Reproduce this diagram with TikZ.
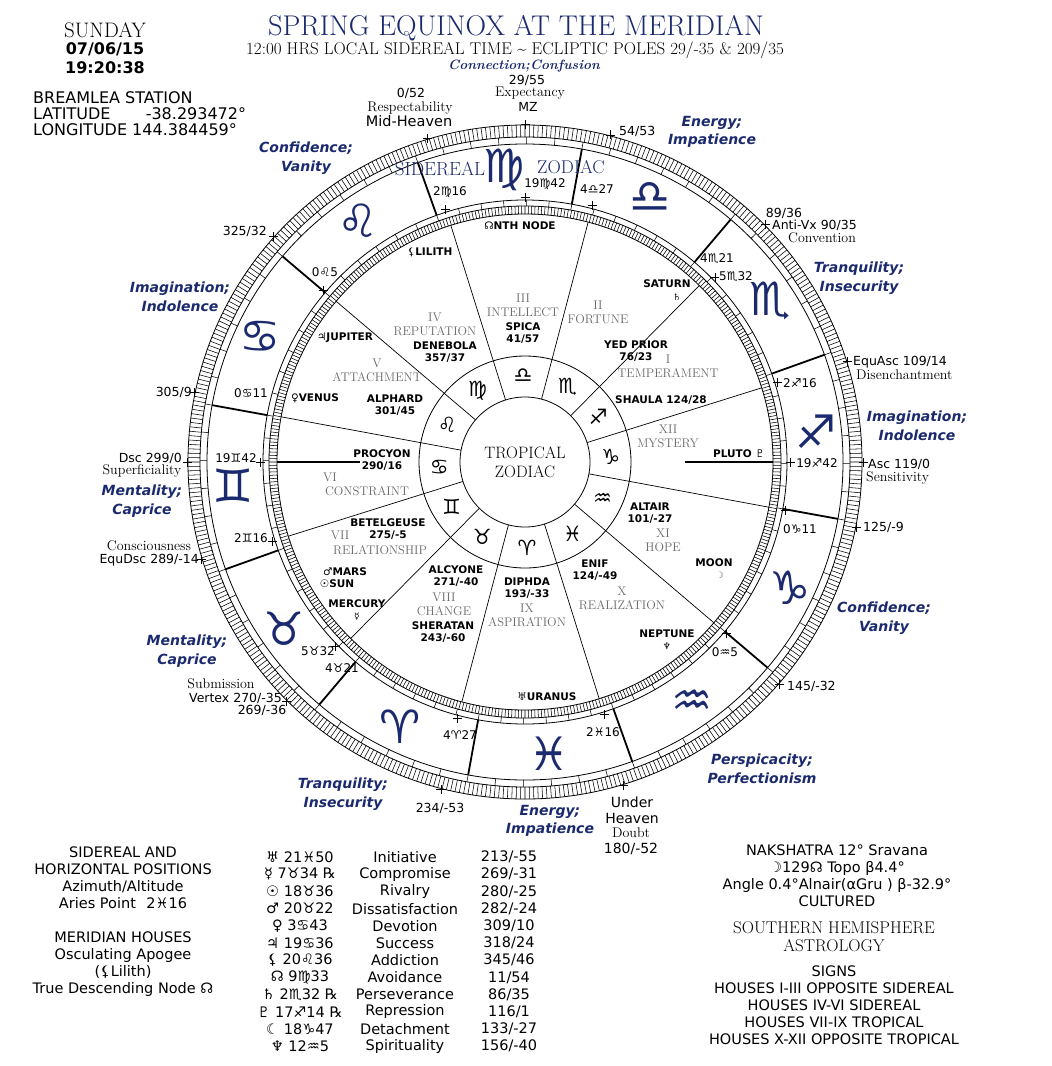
\documentclass[tikz,border=0pt]{standalone}
\usepackage{fontspec}
\newfontfamily\dv{DejaVu Sans}
\usetikzlibrary{calc}
\definecolor{navy}{HTML}{1B2A6E}
\definecolor{hgray}{HTML}{6A6A6A}
\newcommand\fz[2]{\fontsize{#1}{#2}\selectfont}
\tikzset{
 ring/.style={line width=0.8pt},
 tickln/.style={line width=0.55pt},
 signline/.style={line width=1.8pt},
 cusp/.style={line width=0.7pt},
 axisline/.style={line width=1.5pt},
 crossln/.style={line width=0.8pt},
 zsign/.style={text=navy, font=\dv\fz{46}{46}, inner sep=0},
 tsign/.style={font=\dv\fz{21}{21}, inner sep=0},
 deg/.style={font=\dv\fz{12}{14}, inner sep=0},
 star/.style={font=\dv\bfseries\fz{10.5}{11.8}, align=center, inner sep=0},
 psym/.style={font=\dv\fz{9}{10}, inner sep=0},
 house/.style={text=hgray, font=\fz{12.5}{14}, align=center, inner sep=0},
 bluel/.style={text=navy, font=\dv\bfseries\itshape\fz{14}{18.5}, align=center, inner sep=0},
 outl/.style={font=\dv\fz{12.5}{14}, inner sep=0},
 deco/.style={font=\fz{14}{15}, inner sep=0},
 info/.style={font=\dv\fz{14.5}{17}, inner sep=0},
 tbl/.style={font=\dv\fz{14.5}{17}, inner sep=0},
 rinfo/.style={font=\dv\fz{14.5}{17}, inner sep=0},
}
\newcommand\crs[1]{\draw[crossln] (#1) ++(-4.5,0) -- ++(9,0) (#1) ++(0,-4.5) -- ++(0,9);}
\begin{document}
\begin{tikzpicture}[x=1pt,y=1pt]
\useasboundingbox (0,0) rectangle (1052,-1066);
\fill[white] (0,0) rectangle (1052,-1066);

% ---------------- wheel ----------------
\begin{scope}[shift={(525,-462)}]
 \foreach \r in {337,325,318,262,256,248,106,65} \draw[ring] (0,0) circle (\r);
 \draw[tickln] foreach \a in {0,0.75,...,359.3} {(\a:325) -- (\a:337)};
 \draw[tickln] foreach \a in {0,0.75,...,359.3} {(\a:248) -- (\a:256)};
 \draw[tickln] foreach \a in {4.7,9.7,...,359.7} {(\a:318) -- (\a:325) (\a:256) -- (\a:262)};
 % sidereal sign boundaries
 \foreach \k in {0,...,11} \draw[signline] ({259.7-30*\k}:318) -- ({259.7-30*\k}:262);
 % house cusps
 \foreach \a in {17.4,45.35,75.25,107.4,139.6,169.5,197.4,225.35,255.25,287.4,319.6,349.5}
   \draw[cusp] (\a:65) -- (\a:248);
 % axes
 \draw[axisline] (180:248) -- (180:165);
 \draw[axisline] (0:248) -- (0:160);
 % sidereal signs
 \foreach \g/\a [count=\i] in {♈/244.7,♉/214.7,♊/184.7,♋/154.7,♌/124.7,♍/94,♎/64.7,♏/33.3,♐/6,♑/334.7,♒/304.7,♓/274.7}
   \node[zsign] (zs\i) at (\a:293) {\g};
 % tropical signs
 \foreach \g/\a [count=\i] in {♎/91.3,♏/60.3,♐/31.4,♑/3.45,♒/334.55,♓/303.5,♈/271.3,♉/240.3,♊/211.4,♋/183.45,♌/154.55,♍/123.5}
   \node[tsign] (ts\i) at (\a:86) {\g};
 % outer crosses
 \foreach \a [count=\i] in {106.7,90,75.4,44.6,17.3,0,-11.1,-41.2,-73,255.6,225.1,196.8,180,168.2,138.1}
   {\coordinate (oc\i) at (\a:338); \crs{oc\i}}
 % inner crosses
 \foreach \a [count=\i] in {107.4,90,75.25,44.2,17.4,0,-10.5,-40.4,-72.6,255.25,224.2,197.4,180,139.6}
   {\coordinate (ic\i) at (\a:265); \crs{ic\i}}
\end{scope}

% ---------------- header ----------------
\node[text=navy, font=\fz{28.5}{30}, inner sep=0] (title) at (516,-28) {SPRING EQUINOX AT THE MERIDIAN};
\node[font=\fz{17}{18}, inner sep=0] (subtitle) at (515,-50) {12:00 HRS LOCAL SIDEREAL TIME \char`~{} ECLIPTIC POLES 29/-35 \& 209/35};
\node[font=\fz{21}{22}, inner sep=0] (sunday) at (105,-30) {SUNDAY};
\node[font=\dv\bfseries\fz{16}{18}, inner sep=0] (date) at (105,-49) {07/06/15};
\node[font=\dv\bfseries\fz{16}{18}, inner sep=0] (time) at (105,-68) {19:20:38};
\node[font=\dv\fz{16}{18}, anchor=west, inner sep=0] (stat) at (33,-98) {BREAMLEA STATION};
\node[font=\dv\fz{16}{18}, anchor=west, inner sep=0] (lat) at (33,-114) {LATITUDE\hspace{2.2em}-38.293472°};
\node[font=\dv\fz{16}{18}, anchor=west, inner sep=0] (lon) at (33,-130) {LONGITUDE 144.384459°};

% ---------------- outer labels ----------------
\node[outl] (l052) at (411,-93) {0/52};
\node[deco] (lresp) at (410,-108) {Respectability};
\node[font=\dv\fz{14.5}{16}, inner sep=0] (lmh) at (409,-121) {Mid-Heaven};
\node[text=navy, font=\bfseries\itshape\fz{13.5}{15}, inner sep=0] (lconn) at (524,-66) {Connection;Confusion};
\node[outl] (l2955) at (527,-80) {29/55};
\node[deco] (lexp) at (530,-93) {Expectancy};
\node[outl] (lmz) at (528,-107) {MZ};
\node[outl, anchor=west] (l5453) at (619,-131) {54/53};
\node[outl] (l8936) at (784,-213) {89/36};
\node[outl, anchor=west] (lavx) at (772,-225) {Anti-Vx 90/35};
\node[deco] (lconv) at (822,-238) {Convention};
\node[outl, anchor=west] (leqa) at (853,-362) {EquAsc 109/14};
\node[deco, anchor=west] (ldis) at (856,-375) {Disenchantment};
\node[outl, anchor=west] (lasc) at (868,-464) {Asc 119/0};
\node[deco, anchor=west] (lsen) at (866,-478) {Sensitivity};
\node[outl, anchor=west] (l1259) at (863,-527) {125/-9};
\node[outl, anchor=west] (l14532) at (787,-686) {145/-32};
\node[font=\dv\fz{14}{15}, inner sep=0] (lund) at (632,-802) {Under};
\node[font=\dv\fz{14}{15}, inner sep=0] (lhea) at (632,-818) {Heaven};
\node[deco] (ldou) at (631,-833) {Doubt};
\node[font=\dv\fz{14}{15}, inner sep=0] (l18052) at (631,-849) {180/-52};
\node[outl] (l23453) at (440,-808) {234/-53};
\node[deco] (lsub) at (221,-684) {Submission};
\node[outl, anchor=east] (lvtx) at (282,-698) {Vertex 270/-35};
\node[outl] (l26936) at (262,-710) {269/-36};
\node[deco] (lcon) at (149,-546) {Consciousness};
\node[outl, anchor=east] (leqd) at (199,-560) {EquDsc 289/-14};
\node[outl, anchor=east] (ldsc) at (182,-458) {Dsc 299/0};
\node[deco] (lsup) at (142,-471) {Superficiality};
\node[outl, anchor=east] (l3059) at (192,-392) {305/9};
\node[outl, anchor=east] (l32532) at (267,-231) {325/32};

% blue keyword labels
\node[bluel] (b1) at (712,-132) {Energy;\\Impatience};
\node[bluel] (b2) at (306,-158) {Confidence;\\Vanity};
\node[bluel] (b3) at (859,-278) {Tranquility;\\Insecurity};
\node[bluel] (b4) at (180,-297) {Imagination;\\Indolence};
\node[bluel] (b5) at (917,-426) {Imagination;\\Indolence};
\node[bluel] (b6) at (142,-501) {Mentality;\\Caprice};
\node[bluel] (b7) at (884,-618) {Confidence;\\Vanity};
\node[bluel] (b8) at (187,-651) {Mentality;\\Caprice};
\node[bluel] (b9) at (762,-769) {Perspicacity;\\Perfectionism};
\node[bluel] (b10) at (343,-794) {Tranquility;\\Insecurity};
\node[bluel] (b11) at (550,-821) {Energy;\\Impatience};

% sidereal zodiac caption
\node[text=navy, font=\fz{19}{19}, inner sep=0] (sidl) at (440,-169) {SIDEREAL};
\node[text=navy, font=\fz{18.5}{19}, inner sep=0] (sidr) at (571,-167) {ZODIAC};
\node[font=\fz{16.5}{19}, align=center, inner sep=0] (trop) at (525,-462) {TROPICAL\\ZODIAC};

% ---------------- cusp degree labels ----------------
\node[deg] (d1) at (450,-192) {2♍16};
\node[deg] (d2) at (545,-184) {19♍42};
\node[deg] (d3) at (597,-189) {4♎27};
\node[deg] (d4) at (717,-259) {4♏21};
\node[deg] (d5) at (736,-277) {5♏32};
\node[deg] (d6) at (800,-383) {2♐16};
\node[deg] (d7) at (817,-463) {19♐42};
\node[deg] (d8) at (800,-529) {0♑11};
\node[deg] (d9) at (725,-652) {0♒5};
\node[deg] (d10) at (603,-732) {2♓16};
\node[deg] (d11) at (460,-735) {4♈27};
\node[deg] (d12) at (318,-651) {5♉32};
\node[deg] (d13) at (342,-668) {4♉21};
\node[deg] (d14) at (251,-538) {2♊16};
\node[deg] (d15) at (236,-458) {19♊42};
\node[deg] (d16) at (251,-393) {0♋11};
\node[deg] (d17) at (325,-272) {0♌5};

% ---------------- planets and stars ----------------
\node[star] (s1) at (520,-226) {☊NTH NODE};
\node[star] (s2) at (430,-252) {⚸LILITH};
\node[star] (s3) at (345,-338) {♃JUPITER};
\node[star] (s4) at (315,-398) {♀VENUS};
\node[star] (s5) at (445,-352) {DENEBOLA\\357/37};
\node[star] (s6) at (395,-405) {ALPHARD\\301/45};
\node[star] (s7) at (382,-460) {PROCYON\\290/16};
\node[star] (s8) at (388,-529) {BETELGEUSE\\275/-5};
\node[star] (s9) at (345,-572) {♂MARS};
\node[star] (s10) at (337,-584) {☉SUN};
\node[star] (s11) at (357,-604) {MERCURY};
\node[psym] (s12) at (357,-617) {☿};
\node[star] (s13) at (456,-576) {ALCYONE\\271/-40};
\node[star] (s14) at (443,-632) {SHERATAN\\243/-60};
\node[star] (s15) at (527,-588) {DIPHDA\\193/-33};
\node[star] (s16) at (547,-697) {♅URANUS};
\node[star] (s17) at (595,-570) {ENIF\\124/-49};
\node[star] (s18) at (650,-513) {ALTAIR\\101/-27};
\node[star] (s19) at (714,-563) {MOON};
\node[psym, text=hgray] (s20) at (720,-575) {☽};
\node[star] (s21) at (667,-634) {NEPTUNE};
\node[psym] (s22) at (667,-646) {♆};
\node[star] (s23) at (739,-454) {PLUTO ♇};
\node[star] (s24) at (661,-400) {SHAULA 124/28};
\node[star] (s25) at (636,-351) {YED PRIOR\\76/23};
\node[star] (s26) at (667,-284) {SATURN};
\node[psym] (s27) at (677,-297) {♄};
\node[star] (s28) at (523,-333) {SPICA\\41/57};

% ---------------- house names ----------------
\node[house] (h3) at (523,-305) {III\\INTELLECT};
\node[house] (h2) at (598,-312) {II\\FORTUNE};
\node[house] (h1) at (668,-366) {I\\TEMPERAMENT};
\node[house] (h12) at (668,-436) {XII\\MYSTERY};
\node[house] (h11) at (663,-540) {XI\\HOPE};
\node[house] (h10) at (622,-598) {X\\REALIZATION};
\node[house] (h9) at (527,-615) {IX\\ASPIRATION};
\node[house] (h8) at (444,-604) {VIII\\CHANGE};
\node[house] (h7a) at (340,-535) {VII};
\node[house] (h7b) at (380,-550) {RELATIONSHIP};
\node[house] (h6a) at (330,-477) {VI};
\node[house] (h6b) at (367,-491) {CONSTRAINT};
\node[house] (h5) at (377,-370) {V\\ATTACHMENT};
\node[house] (h4) at (435,-324) {IV\\REPUTATION};

% ---------------- bottom left ----------------
\node[info, align=center, anchor=north] (bl1) at (123,-847) {SIDEREAL AND\\HORIZONTAL POSITIONS\\Azimuth/Altitude\\Aries Point\hspace{0.4em} 2♓16};
\node[info, align=center, anchor=north] (bl2) at (123,-932) {MERIDIAN HOUSES\\Osculating Apogee\\(⚸Lilith)\\True Descending Node ☊};

% ---------------- table ----------------
\foreach \p/\w/\v [count=\i] in {
 {♅ 21♓50}/Initiative/{213/-55},
 {☿ 7♉34 ℞}/Compromise/{269/-31},
 {☉ 18♉36}/Rivalry/{280/-25},
 {♂ 20♉22}/Dissatisfaction/{282/-24},
 {♀ 3♋43}/Devotion/{309/10},
 {♃ 19♋36}/Success/{318/24},
 {⚸ 20♌36}/Addiction/{345/46},
 {☊ 9♍33}/Avoidance/{11/54},
 {♄ 2♏32 ℞}/Perseverance/{86/35},
 {♇ 17♐14 ℞}/Repression/{116/1},
 {☾ 18♑47}/Detachment/{133/-27},
 {♆ 12♒5}/Spirituality/{156/-40}}
{
 \node[tbl] (tp\i) at (300,{-857-17.2*(\i-1)}) {\p};
 \node[tbl] (tw\i) at (405,{-857-17.2*(\i-1)}) {\w};
 \node[tbl] (tv\i) at (509,{-857-17.2*(\i-1)}) {\v};
}

% ---------------- bottom right ----------------
\node[rinfo, align=center, anchor=north] (br1) at (837,-845) {NAKSHATRA 12° Sravana\\☽129☊ Topo β4.4°\\Angle 0.4°Alnair(αGru ) β-32.9°\\CULTURED};
\node[font=\fz{17}{18}, align=center, anchor=north, inner sep=0] (br2) at (834,-921) {SOUTHERN HEMISPHERE\\ASTROLOGY};
\node[rinfo, align=center, anchor=north] (br3) at (834,-966) {SIGNS\\HOUSES I-III OPPOSITE SIDEREAL\\HOUSES IV-VI SIDEREAL\\HOUSES VII-IX TROPICAL\\HOUSES X-XII OPPOSITE TROPICAL};
\end{tikzpicture}
\end{document}
